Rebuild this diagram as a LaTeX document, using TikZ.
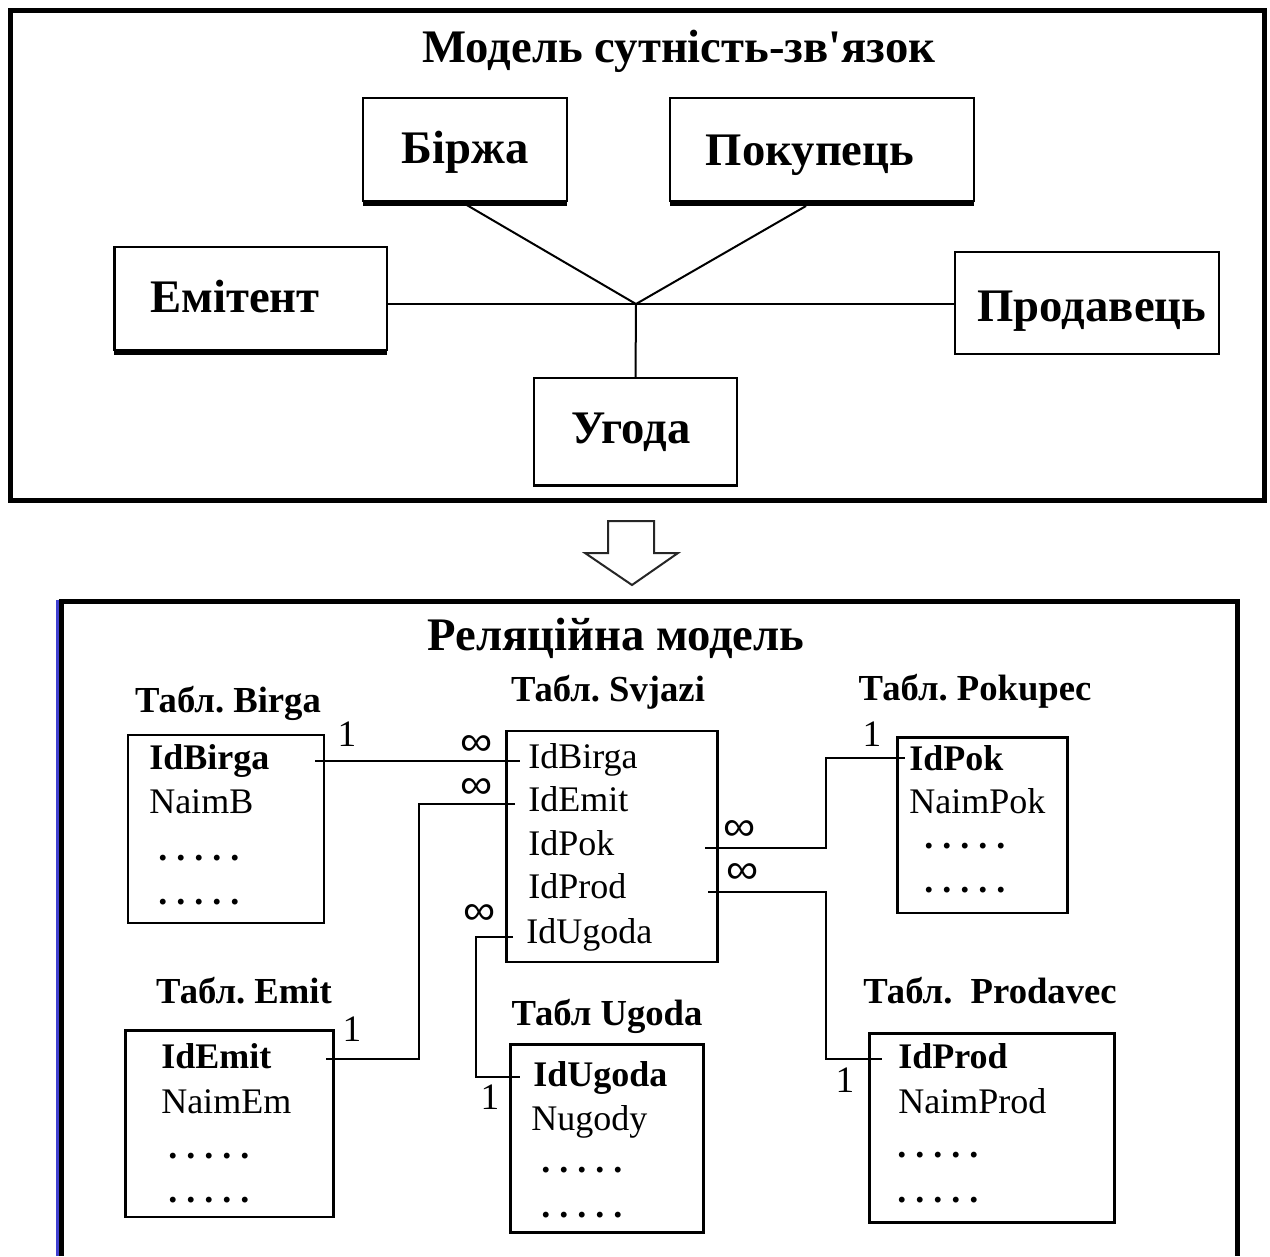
\documentclass[tikz,border=0pt]{standalone}
\usepackage{fontspec}
\setmainfont{Liberation Serif}
\newfontfamily\inffam{Liberation Sans}
\frenchspacing
\definecolor{edgeblue}{RGB}{64,64,208}
\newcommand\infsym{\scalebox{1.3}[1.2]{∞}}
\begin{document}
\begin{tikzpicture}[x=0.75pt,y=-0.75pt,
  frame/.style={draw=black,line width=3.75pt},
  erbox/.style={draw=black,line width=1.9pt,inner sep=0pt,outer sep=0pt,rectangle},
  tbox/.style={draw=black,line width=1.9pt,inner sep=0pt,outer sep=0pt,rectangle},
  shadowline/.style={line width=3pt},
  link/.style={line width=1.5pt},
  bigtxt/.style={inner sep=0pt,anchor=base,font=\fontsize{35}{40}\selectfont\bfseries},
  ttl/.style={inner sep=0pt,anchor=base,font=\fontsize{27.5}{30}\selectfont\bfseries},
  fld/.style={inner sep=0pt,anchor=base west,font=\fontsize{27}{30}\selectfont},
  bfld/.style={inner sep=0pt,anchor=base west,font=\fontsize{27}{30}\selectfont\bfseries},
  dots/.style={inner sep=0pt,anchor=base west,font=\fontsize{27}{30}\selectfont\bfseries},
  one/.style={inner sep=0pt,font=\fontsize{28}{30}\selectfont},
  inf/.style={inner sep=0pt,font=\inffam\fontsize{26}{30}\selectfont}]
\useasboundingbox (0,0) rectangle (1270,1256);
\fill[white] (0,0) rectangle (1270,1256);

% ---------- top frame ----------
\draw[frame] (10,10.5) rectangle (1264,500.5);
\node[bigtxt] (t1) at (679,63) {Модель сутність-зв\textquotesingle язок};

\node[erbox,minimum width=153pt,minimum height=77.25pt] (birzha) at (465,149.5) {};
\node[erbox,minimum width=228pt,minimum height=77.25pt] (pokup) at (822,149.5) {};
\node[erbox,minimum width=204.4pt,minimum height=77.25pt] (emit) at (250.75,298.5) {};
\node[erbox,minimum width=198pt,minimum height=76.5pt] (prod) at (1087,303) {};
\node[erbox,minimum width=152.25pt,minimum height=80.6pt] (ugoda) at (635.5,431.75) {};
\draw[shadowline] (birzha.south west) ++(0,2.5) -- ++(204,0);
\draw[shadowline] (pokup.south west) ++(0,2.5) -- ++(304,0);
\draw[shadowline] (emit.south west) ++(0,2.5) -- ++(272.5,0);

\node[bigtxt] (lb1) at (465,163) {Біржа};
\node[bigtxt] (lb2) at (810,165) {Покупець};
\node[bigtxt] (lb3) at (235,312) {Емітент};
\node[bigtxt] (lb4) at (1092,321) {Продавець};
\node[bigtxt] (lb5) at (631,443) {Угода};

\coordinate (J) at (636,304);
\coordinate (bz) at (465,204);
\coordinate (pk) at (806,206);
\draw[link] (bz) -- (J);
\draw[link] (pk) -- (J);
\draw[link] (emit.east |- J) -- (prod.west |- J);
\draw[link] (J) -- (ugoda.north);

% ---------- hollow arrow ----------
\draw[line width=1.5pt,black!85,line join=miter] (608,521) -- (654,521) -- (654,553) -- (678,553) -- (632,585) -- (585,553) -- (608,553) -- cycle;

% ---------- bottom frame ----------
\draw[frame] (61.5,1256) -- (61.5,601.5) -- (1237.5,601.5) -- (1237.5,1256);
\draw[edgeblue,line width=2.25pt] (57.5,599.5) -- (57.5,1256);
\node[bigtxt] (t2) at (616,650) {Реляційна модель};

% tables
\node[tbox,minimum width=147pt,minimum height=141pt] (tb) at (226,829) {};
\node[tbox,minimum width=158.25pt,minimum height=173.25pt] (ts) at (612,846.5) {};
\node[tbox,minimum width=127.5pt,minimum height=131.6pt] (tp) at (982.5,825.25) {};
\node[tbox,minimum width=156pt,minimum height=139.9pt] (te) at (229.5,1123.75) {};
\node[tbox,minimum width=144.75pt,minimum height=141pt] (tu) at (607,1138.5) {};
\node[tbox,minimum width=183.75pt,minimum height=141.75pt] (tr) at (992,1128) {};

\node[ttl] (h1) at (228,712) {Табл. Birga};
\node[ttl] (h2) at (608,701) {Табл. Svjazi};
\node[ttl] (h3) at (975,700) {Табл. Pokupec};
\node[ttl] (h4) at (244,1003) {Табл. Emit};
\node[ttl] (h5) at (607,1025) {Табл Ugoda};
\node[ttl] (h6) at (990,1003) {Табл.~~Prodavec};

% Birga fields
\node[bfld] (f11) at (149,769) {IdBirga};
\node[fld] (f12) at (149,813) {NaimB};
\node[dots] (f13) at (158,860) {. . . . .};
\node[dots] (f14) at (158,904) {. . . . .};
% Svjazi fields
\node[fld] (f21) at (528,768) {IdBirga};
\node[fld] (f22) at (528,811) {IdEmit};
\node[fld] (f23) at (528,855) {IdPok};
\node[fld] (f24) at (528,898) {IdProd};
\node[fld] (f25) at (526,943) {IdUgoda};
% Pokupec fields
\node[bfld] (f31) at (909,770) {IdPok};
\node[fld] (f32) at (909,813) {NaimPok};
\node[dots] (f33) at (924,848) {. . . . .};
\node[dots] (f34) at (924,892) {. . . . .};
% Emit fields
\node[bfld] (f41) at (161,1068) {IdEmit};
\node[fld] (f42) at (161,1113) {NaimEm};
\node[dots] (f43) at (168,1158) {. . . . .};
\node[dots] (f44) at (168,1202) {. . . . .};
% Ugoda fields
\node[bfld] (f51) at (533,1086) {IdUgoda};
\node[fld] (f52) at (531,1130) {Nugody};
\node[dots] (f53) at (541,1172) {. . . . .};
\node[dots] (f54) at (541,1217) {. . . . .};
% Prodavec fields
\node[bfld] (f61) at (898,1068) {IdProd};
\node[fld] (f62) at (898,1113) {NaimProd};
\node[dots] (f63) at (897,1157) {. . . . .};
\node[dots] (f64) at (897,1202) {. . . . .};

% connectors
\coordinate (b1) at (315,761);  \coordinate (b2) at (520,761);
\coordinate (eS) at (515,804);  \coordinate (eM) at (418.5,1059); \coordinate (eE) at (326,1059);
\coordinate (uS) at (513,937);  \coordinate (uM) at (476,1077);   \coordinate (uE) at (520,1077);
\coordinate (pS) at (705,848);  \coordinate (pM) at (826,758);    \coordinate (pE) at (905,758);
\coordinate (rS) at (708,892);  \coordinate (rM) at (826,1059);   \coordinate (rE) at (882,1059);
\draw[link] (b1) -- (b2);
\draw[link] (eS) -| (eM) -- (eE);
\draw[link] (uS) -| (uM) -- (uE);
\draw[link] (pS) -| (pM) -- (pE);
\draw[link] (rS) -| (rM) -- (rE);

% cardinalities
\node[inf] (i1) at (477,745.5) {\infsym};
\node[inf] (i2) at (477,789) {\infsym};
\node[inf] (i3) at (739.5,830.5) {\infsym};
\node[inf] (i4) at (742.5,874) {\infsym};
\node[inf] (i5) at (479.5,915) {\infsym};
\node[one] (o1) at (347,734.5) {1};
\node[one] (o2) at (872,734.5) {1};
\node[one] (o3) at (352,1029.5) {1};
\node[one] (o4) at (490,1097.5) {1};
\node[one] (o5) at (845,1080.5) {1};
\end{tikzpicture}
\end{document}
